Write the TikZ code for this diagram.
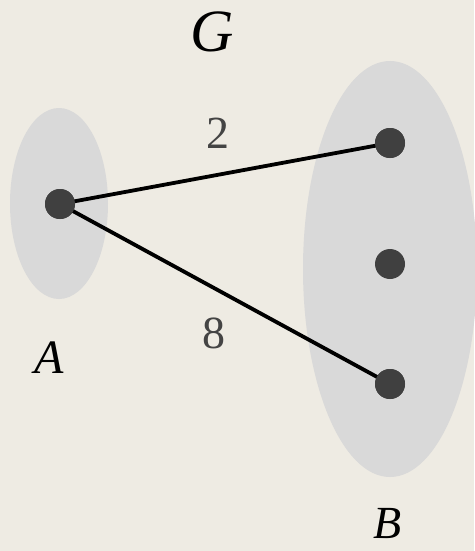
\documentclass[tikz,border=0pt]{standalone}
\usepackage{fontspec}
\setmainfont{Liberation Serif}
\definecolor{bg}{HTML}{EEEBE3}
\definecolor{blob}{HTML}{D9D9D9}
\definecolor{dotc}{HTML}{404040}
\definecolor{numc}{HTML}{444444}
\begin{document}
\begin{tikzpicture}[x=1pt,y=-1pt,
  vert/.style={circle,fill=dotc,minimum size=30pt,inner sep=0pt},
  edge/.style={line width=3.8pt,black},
  setlbl/.style={anchor=base,inner sep=0pt,text depth=0pt,font=\fontsize{48}{52}\selectfont\itshape},
  wlbl/.style={anchor=base,inner sep=0pt,text=numc,font=\fontsize{46}{50}\selectfont}]
\fill[bg] (0,0) rectangle (474,551);
\useasboundingbox (0,0) rectangle (474,551);
\fill[blob] (59,203.5) ellipse [x radius=49, y radius=95.5];
\fill[blob] (390,269) ellipse [x radius=87, y radius=208];
\node[vert] (a) at (60,204) {};
\node[vert] (b1) at (390,143) {};
\node[vert] (b2) at (390,264) {};
\node[vert] (b3) at (390,384) {};
\draw[edge] (a.center) -- (b1.center);
\draw[edge] (a.center) -- (b3.center);
\node[vert] at (a.center) {};
\node[vert] at (b1.center) {};
\node[vert] at (b3.center) {};
\node[wlbl] (w1) at (218,148) {2};
\node[wlbl] (w2) at (214,348) {8};
\node[setlbl,font=\fontsize{60}{64}\selectfont\itshape] (g) at (212,52) {G};
\node[setlbl] (la) at (49,373) {A};
\node[setlbl,font=\fontsize{46}{50}\selectfont\itshape] (lb) at (388,538) {B};
\end{tikzpicture}
\end{document}
